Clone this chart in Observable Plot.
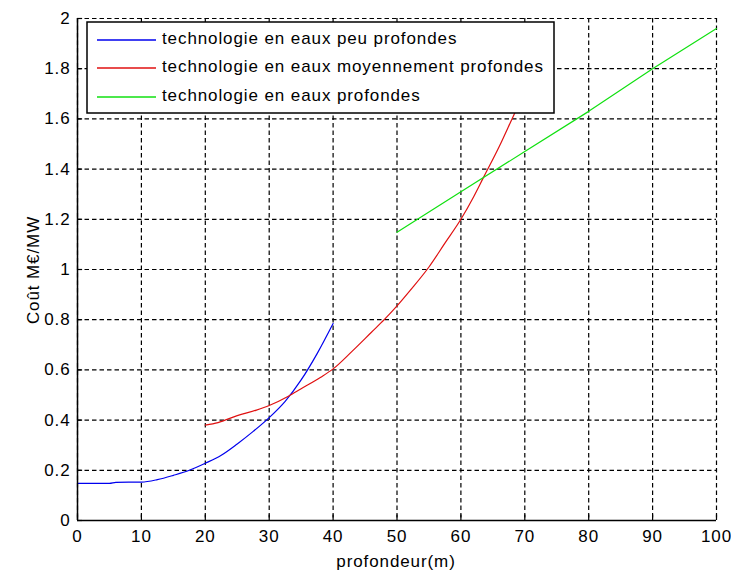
<!DOCTYPE html>
<html><head><meta charset="utf-8">
<script src="https://cdn.jsdelivr.net/npm/d3@7"></script>
<script src="https://cdn.jsdelivr.net/npm/@observablehq/plot@0.6"></script>
<style>body{margin:0;background:#fff}</style>
</head><body><div id="chart"></div>
<script>
// Tick labels
const xTicks = [0,10,20,30,40,50,60,70,80,90,100];
const yTicks = [0,0.2,0.4,0.6,0.8,1,1.2,1.4,1.6,1.8,2];

// Series names
const seriesNames = [
  "technologie en eaux peu profondes",
  "technologie en eaux moyennement profondes",
  "technologie en eaux profondes"
];
const seriesColors = ["#0000ee", "#e01010", "#10e010"];

// Shallow water (blue)
const depthShallow = [0,5,6,10,12.5,15,17.5,20,22.5,25,27.5,30,32.5,35,37.5,40];
const costShallow  = [0.148,0.148,0.152,0.153,0.163,0.18,0.2,0.228,0.26,0.305,0.355,0.41,0.475,0.56,0.665,0.785];

// Medium depth (red)
const depthMedium = [20,22,25,28,30,33,35,38,40,43,46,48,50,52,55,57.5,60,62,63.5,66,68,70];
const costMedium  = [0.38,0.39,0.418,0.44,0.458,0.495,0.525,0.57,0.604,0.675,0.75,0.8,0.855,0.915,1.01,1.105,1.2,1.29,1.365,1.49,1.6,1.71];

// Deep water (green)
const depthDeep = [50,60,70,80,90,100];
const costDeep  = [1.148,1.31,1.47,1.63,1.8,1.96];

const toRows = (xs, ys) => xs.map((x, i) => ({x, y: ys[i]}));
const shallow = toRows(depthShallow, costShallow);
const medium = toRows(depthMedium, costMedium);
const deep = toRows(depthDeep, costDeep);

const dash = "4.5,3";
const plot = Plot.plot({
  width: 731,
  height: 574,
  marginLeft: 77,
  marginRight: 15,
  marginTop: 18,
  marginBottom: 54,
  style: "font-family: 'Liberation Sans', Arial, sans-serif; font-size: 17px; letter-spacing: 0.9px; background: white; color: black; overflow: visible;",
  x: {domain: [0, 100], ticks: xTicks, tickSize: 0, tickPadding: 9, label: null},
  y: {domain: [0, 2], ticks: yTicks, tickSize: 0, tickPadding: 7, label: null, tickFormat: d => String(d)},
  marks: [
    Plot.gridX(xTicks, {stroke: "black", strokeOpacity: 1, strokeWidth: 1.2, strokeDasharray: dash}),
    Plot.gridY(yTicks, {stroke: "black", strokeOpacity: 1, strokeWidth: 1.2, strokeDasharray: dash}),
    Plot.line(shallow, {x: "x", y: "y", stroke: seriesColors[0], strokeWidth: 1.2, curve: "monotone-x"}),
    Plot.line(medium, {x: "x", y: "y", stroke: seriesColors[1], strokeWidth: 1.2, curve: "monotone-x"}),
    Plot.line(deep, {x: "x", y: "y", stroke: seriesColors[2], strokeWidth: 1.2}),
    Plot.ruleX(xTicks, {x: d => d, y1: 0, y2: 0.022, stroke: "black", strokeWidth: 1.2}),
    Plot.ruleY(yTicks, {y: d => d, x1: 0, x2: 0.8, stroke: "black", strokeWidth: 1.2}),
    Plot.ruleX([0], {stroke: "black", strokeWidth: 1.5}),
    Plot.ruleY([0], {stroke: "black", strokeWidth: 1.5})
  ]
});

const svg = d3.select(plot);
// Axis titles
svg.append("text")
  .attr("x", 396).attr("y", 563)
  .attr("text-anchor", "middle").attr("dominant-baseline", "middle")
  .attr("fill", "black")
  .text("profondeur(m)");
svg.append("text")
  .attr("transform", "translate(35,270) rotate(-90)")
  .attr("text-anchor", "middle").attr("dominant-baseline", "middle")
  .attr("fill", "black")
  .text("Coût M€/MW");

// Legend
const lg = svg.append("g").attr("text-anchor", "start");
lg.append("rect")
  .attr("x", 87).attr("y", 22).attr("width", 467).attr("height", 91)
  .attr("fill", "white").attr("stroke", "black").attr("stroke-width", 1.5);
const rowY = [40, 68, 97];
seriesNames.forEach((name, i) => {
  lg.append("line")
    .attr("x1", 97).attr("x2", 156).attr("y1", rowY[i]).attr("y2", rowY[i])
    .attr("stroke", seriesColors[i]).attr("stroke-width", 1.3);
  lg.append("text")
    .attr("x", 162).attr("y", rowY[i])
    .attr("text-anchor", "start")
    .attr("dominant-baseline", "middle").attr("fill", "black")
    .text(name);
});

document.getElementById("chart").append(plot);
</script>
</body></html>
